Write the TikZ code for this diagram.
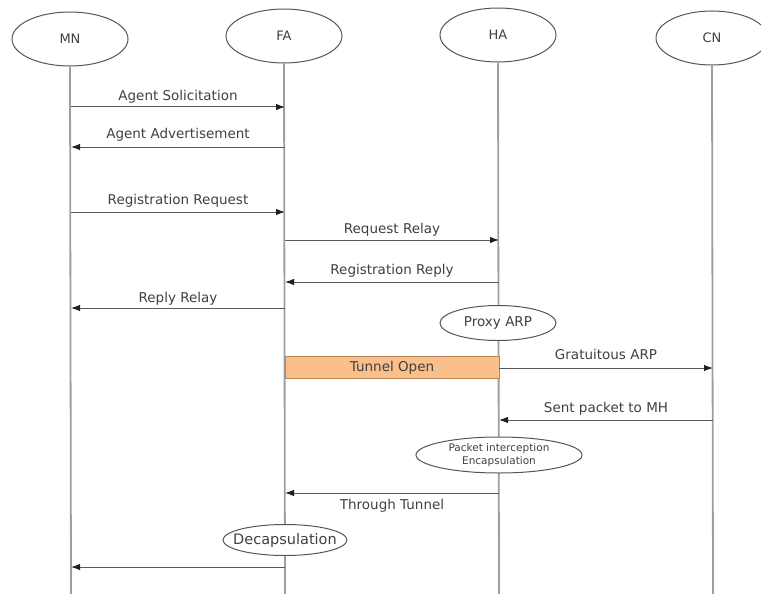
\documentclass[tikz,border=0pt]{standalone}
\usepackage{fontspec}
\setmainfont{DejaVu Sans}
\usetikzlibrary{shapes.geometric,arrows.meta}
\definecolor{lifegray}{HTML}{9E9E9E}
\definecolor{msgcol}{HTML}{5A5A5A}
\definecolor{tipcol}{HTML}{202020}
\definecolor{outline}{HTML}{555555}
\definecolor{txtcol}{HTML}{404040}
\definecolor{tunnelfill}{HTML}{F9C08C}
\definecolor{tunneldraw}{HTML}{B88458}
\begin{document}
\begin{tikzpicture}[x=1pt,y=-1pt,
  entity/.style={ellipse,draw=outline,line width=1pt,fill=white,inner sep=0pt,
    minimum width=116pt,minimum height=54pt,font=\fontsize{13}{15}\selectfont,text=txtcol},
  event/.style={ellipse,draw=outline,line width=1pt,fill=white,inner sep=0pt},
  evtext/.style={font=\fontsize{13.5}{15}\selectfont,text=txtcol,inner sep=0pt},
  lifeline/.style={draw=lifegray,line width=1.8pt},
  msg/.style={draw=msgcol,line width=1pt,-{Latex[length=9pt,width=6.5pt,color=tipcol]}},
  lbl/.style={font=\fontsize{13.5}{15}\selectfont,text=txtcol,inner sep=0pt,anchor=base}
]
\useasboundingbox (0,0) rectangle (761,594);

% lifeline heads
\node[entity] (mn) at (70,39) {MN};
\node[entity] (fa) at (284,36) {FA};
\node[entity] (ha) at (498,35) {HA};
\node[entity,minimum width=112pt] (cn) at (712,38) {CN};

% lifelines
\coordinate (mnEnd) at (71,594);
\coordinate (faEnd) at (285,594);
\coordinate (haEnd) at (499,594);
\coordinate (cnEnd) at (713,594);
\draw[lifeline] (mn.south) -- (mnEnd);
\draw[lifeline] (fa.south) -- (faEnd);
\draw[lifeline] (ha.south) -- (haEnd);
\draw[lifeline] (cn.south) -- (cnEnd);

% anchor points on the lifelines
\foreach \n/\y in {a/107,b/147,c/212,f/308,h/567}{
  \coordinate (mn\n) at (71,\y);}
\foreach \n/\y in {a/107,b/147,c/212,d/240,e/282,f/308,g/493,h/567}{
  \coordinate (fa\n) at (285,\y);}
\foreach \n/\y in {d/240,e/282,t/368,s/420,g/493}{
  \coordinate (ha\n) at (499,\y);}
\foreach \n/\y in {t/368,s/420}{
  \coordinate (cn\n) at (713,\y);}

% messages
\draw[msg] (mna) -- node[lbl,shift={(0,-7)}]{Agent Solicitation} (faa);
\draw[msg] (fab) -- node[lbl,shift={(0,-8)}]{Agent Advertisement} (mnb);
\draw[msg] (mnc) -- node[lbl,shift={(0,-8)}]{Registration Request} (fac);
\draw[msg] (fad) -- node[lbl,shift={(0,-7)}]{Request Relay} (had);
\draw[msg] (hae) -- node[lbl,shift={(0,-8)}]{Registration Reply} (fae);
\draw[msg] (faf) -- node[lbl,shift={(0,-6)}]{Reply Relay} (mnf);

% proxy ARP and tunnel set-up
\node[event,minimum width=116pt,minimum height=35pt] (parp) at (498,323) {};
\node[evtext] (parpText) at (parp) {Proxy ARP};
\node[draw=tunneldraw,fill=tunnelfill,line width=0.8pt,minimum width=214pt,
  minimum height=22pt,inner sep=0pt,font=\fontsize{13.5}{15}\selectfont,text=txtcol]
  (tun) at (392,367.5) {Tunnel Open};
\draw[msg] (hat) -- node[lbl,shift={(0,-9)}]{Gratuitous ARP} (cnt);
\draw[msg] (cns) -- node[lbl,shift={(0,-8)}]{Sent packet to MH} (has);

% interception at the home agent
\node[event,minimum width=166pt,minimum height=36pt] (intc) at (499,455) {};
\node[evtext,font=\fontsize{10.5}{13}\selectfont,align=center] (intcText) at (intc)
  {Packet interception\\Encapsulation};
\draw[msg] (hag) -- node[lbl,shift={(0,16)}]{Through Tunnel} (fag);

% decapsulation at the foreign agent
\node[event,minimum width=124pt,minimum height=31pt] (decap) at (285,540) {};
\node[evtext,font=\fontsize{14.5}{16}\selectfont] (decapText) at (decap) {Decapsulation};
\draw[msg] (fah) -- (mnh);
\end{tikzpicture}
\end{document}
